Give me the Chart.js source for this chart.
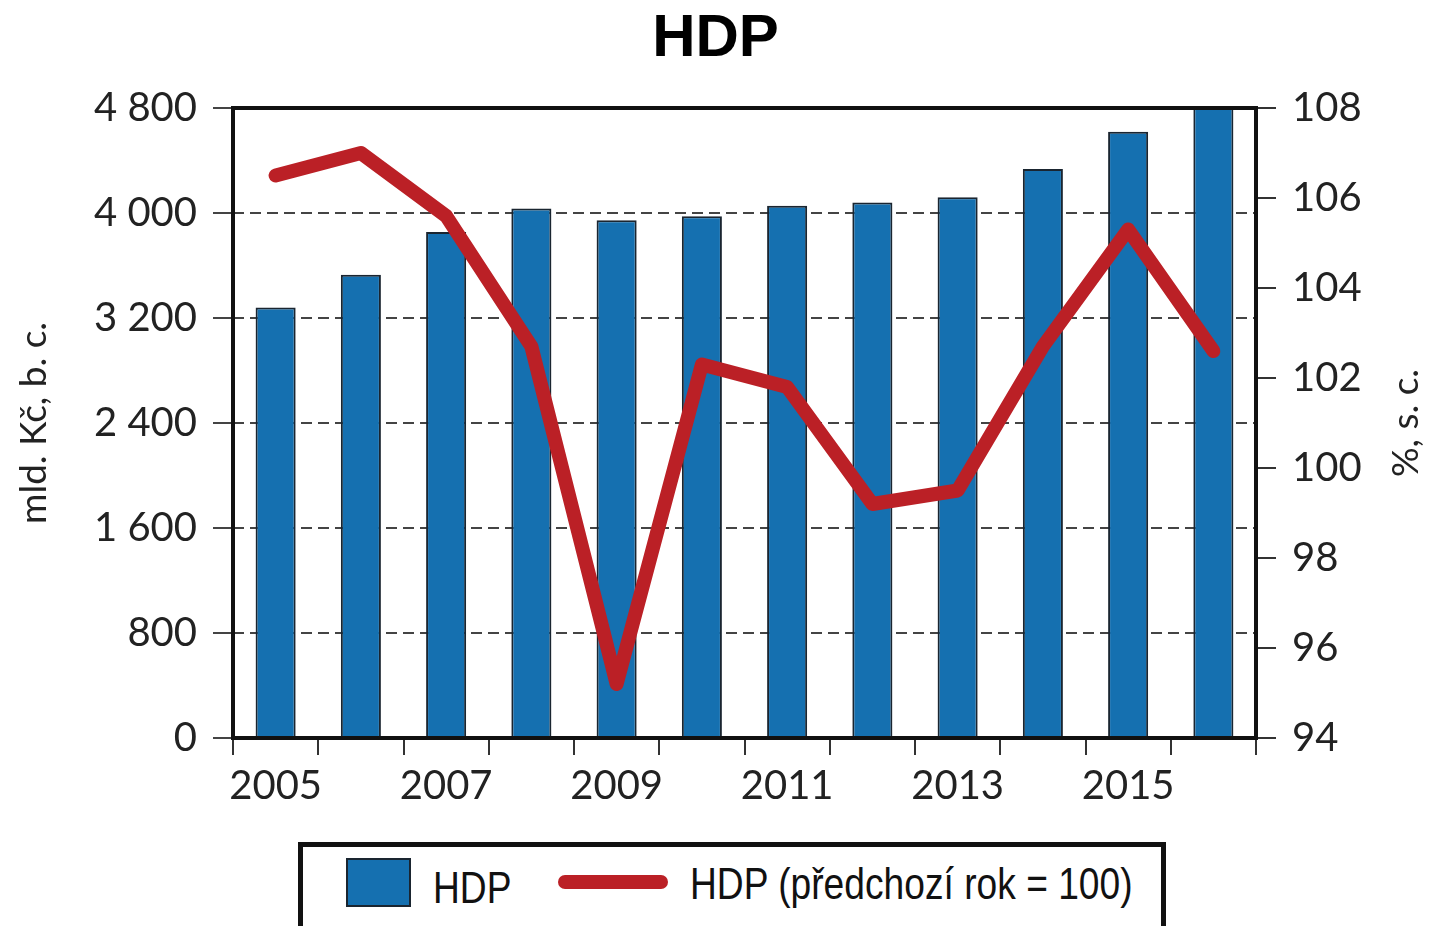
<!DOCTYPE html>
<html>
<head>
    <title>HDP</title>
    <script src="https://cdn.jsdelivr.net/npm/chart.js"></script>
    <style>
        body { margin: 0; background: #fff; }
        #wrap { position: relative; width: 1431px; height: 926px; overflow: hidden; }
        #chart { position: absolute; left: 0; top: 0; }
        #legend {
            position: absolute; left: 298px; top: 842px; width: 868px; height: 100px;
            box-sizing: border-box; border: 5px solid #111;
            font-family: "Liberation Sans", sans-serif;
            font-size: 44px; line-height: 44px; color: #111;
        }
        #legend div { position: absolute; white-space: nowrap; }
        .box { left: 43px; top: 11px; width: 61px; height: 45px; background: #1570b0; border: 2px solid #1a2530; }
        .txt1, .txt2 { transform: scaleX(0.845); transform-origin: 0 0; }
        .txt1 { left: 130px; top: 19px; }
        .redline { left: 255px; top: 28px; width: 110px; height: 14px; border-radius: 7px; background: #bb2026; }
        .txt2 { left: 387px; top: 15px; }
    </style>
</head>
<body>
<div id="wrap">
    <canvas id="chart" width="1431" height="840"></canvas>
    <div id="legend">
        <div class="box"></div>
        <div class="txt1">HDP</div>
        <div class="redline"></div>
        <div class="txt2">HDP (předchozí rok = 100)</div>
    </div>
</div>

<script>
    // data
    const years = ['2005', '2006', '2007', '2008', '2009', '2010', '2011', '2012', '2013', '2014', '2015', '2016'];
    const hdp = [3280, 3530, 3855, 4035, 3945, 3975, 4055, 4080, 4120, 4335, 4620, 4800];       // mld. Kč, b. c.
    const hdpIndex = [106.5, 107.0, 105.6, 102.7, 95.2, 102.3, 101.8, 99.2, 99.5, 102.7, 105.3, 102.6]; // předchozí rok = 100
    const leftRange = [0, 4800, 800];
    const rightRange = [94, 108, 2];

    Chart.defaults.font.family = 'Lato, "Liberation Sans", sans-serif';
    Chart.defaults.color = '#222';

    function fmtThousands(v) {
        if (v < 1000) return String(v);
        return Math.floor(v / 1000) + ' ' + String(v % 1000).padStart(3, '0');
    }

    // black frame round the plot + right axis title (reads bottom to top)
    const framePlugin = {
        id: 'frame',
        afterDraw(chart) {
            const ctx = chart.ctx;
            const a = chart.chartArea;
            ctx.save();
            ctx.lineWidth = 4;
            ctx.strokeStyle = '#111';
            ctx.strokeRect(a.left, a.top, a.right - a.left, a.bottom - a.top);
            const s = chart.scales.y1;
            ctx.translate(s.right - 25, (a.top + a.bottom) / 2);
            ctx.rotate(-Math.PI / 2);
            ctx.font = '37px Lato, "Liberation Sans", sans-serif';
            ctx.fillStyle = '#222';
            ctx.textAlign = 'center';
            ctx.textBaseline = 'middle';
            ctx.fillText('%, s. c.', 0, 0);
            ctx.restore();
        }
    };

    new Chart(document.getElementById('chart'), {
        type: 'bar',
        data: {
            labels: years,
            datasets: [{
                type: 'line',
                label: 'HDP (předchozí rok = 100)',
                data: hdpIndex,
                yAxisID: 'y1',
                borderColor: '#bb2026',
                borderWidth: 14,
                borderCapStyle: 'round',
                borderJoinStyle: 'round',
                pointRadius: 0,
                tension: 0,
                order: 1
            }, {
                label: 'HDP',
                data: hdp,
                yAxisID: 'y',
                backgroundColor: '#1570b0',
                borderColor: '#1a2530',
                borderWidth: 2,
                barPercentage: 0.47,
                categoryPercentage: 1,
                order: 2
            }]
        },
        options: {
            responsive: false,
            animation: false,
            layout: { padding: 0 },
            plugins: {
                legend: { display: false },
                tooltip: { enabled: false },
                title: {
                    display: true,
                    text: 'HDP',
                    color: '#000',
                    font: { family: '"Liberation Sans", sans-serif', size: 60, weight: 'bold' },
                    padding: { top: 3, bottom: 33 }
                }
            },
            scales: {
                x: {
                    offset: true,
                    grid: { offset: true, drawOnChartArea: false, tickLength: 17, color: '#333', lineWidth: 2 },
                    border: { display: false },
                    ticks: {
                        autoSkip: false, maxRotation: 0, padding: 7,
                        font: { size: 40 },
                        callback: function (v, i) { return i % 2 === 0 ? this.getLabelForValue(v) : ''; }
                    },
                    afterFit(scale) { scale.height = 102; }
                },
                y: {
                    position: 'left',
                    min: leftRange[0], max: leftRange[1],
                    grid: { color: '#444', lineWidth: 2, tickLength: 20 },
                    border: { display: false, dash: [11, 6] },
                    ticks: { stepSize: leftRange[2], padding: 16, font: { size: 40 }, callback: v => fmtThousands(v) },
                    title: { display: true, text: 'mld. Kč, b. c.', font: { size: 37 }, padding: { top: 12, bottom: 0 } },
                    afterFit(scale) { scale.width = 233; }
                },
                y1: {
                    position: 'right',
                    min: rightRange[0], max: rightRange[1],
                    grid: { drawOnChartArea: false, color: '#333', lineWidth: 2, tickLength: 20 },
                    border: { display: false },
                    ticks: { stepSize: rightRange[2], padding: 16, font: { size: 40 } },
                    afterFit(scale) { scale.width = 175; }
                }
            }
        },
        plugins: [framePlugin]
    });
</script>
</body>
</html>
